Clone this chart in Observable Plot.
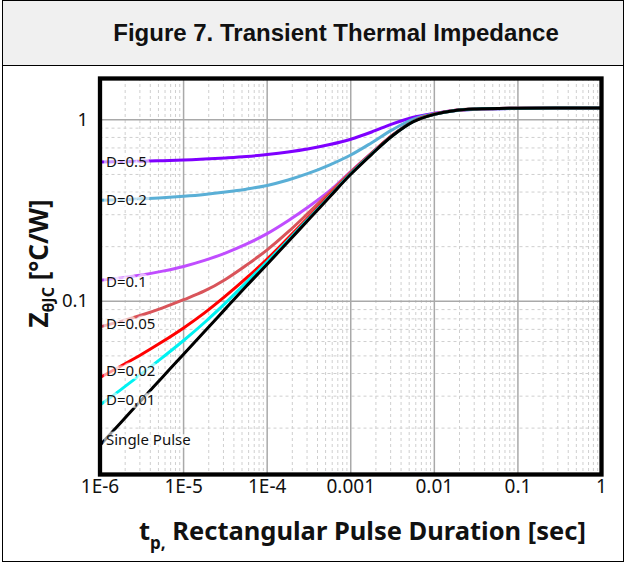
<!DOCTYPE html>
<html>
<head>
<meta charset="utf-8">
<script src="https://cdn.jsdelivr.net/npm/d3@7"></script>
<script src="https://cdn.jsdelivr.net/npm/@observablehq/plot@0.6"></script>
<style>
  body { margin: 0; background: #fff; }
  #fig { position: relative; width: 626px; height: 564px; overflow: hidden; background: #fff; }
  #box { position: absolute; left: 2px; top: 0; width: 620px; height: 560px; border: 1.5px solid #000; }
  #head {
    position: absolute; left: 2px; top: 0; width: 620px; height: 64px;
    background: #f0f0f0; border: 1.5px solid #000;
    display: flex; align-items: center; justify-content: center;
  }
  #title {
    font: bold 24px "Liberation Sans", Arial, sans-serif; color: #111;
    padding-left: 46px;
  }
  #chart { position: absolute; left: 0; top: 66px; }
</style>
</head>
<body>
<div id="fig">
  <div id="box"></div>
  <div id="head"><div id="title">Figure 7. Transient Thermal Impedance</div></div>
  <div id="chart"></div>
</div>
<script>
// Pulse duration t_p (s), shared by every curve
const tp = [1e-6, 1.78e-6, 3.16e-6, 5.62e-6, 1e-5, 1.78e-5, 3.16e-5, 5.62e-5, 1e-4, 1.78e-4, 3.16e-4,
            5.62e-4, 1e-3, 1.78e-3, 3.16e-3, 5.62e-3, 1e-2, 1.78e-2, 3.16e-2, 0.1, 1];

// Z_thJC (°C/W) for each duty cycle
const zD05    = [0.585, 0.588, 0.592, 0.596, 0.601, 0.608, 0.617, 0.628, 0.644, 0.665, 0.693, 0.731, 0.782, 0.857, 0.951, 1.033, 1.086, 1.127, 1.143, 1.156, 1.161];
const zD02    = [0.360, 0.363, 0.367, 0.372, 0.379, 0.388, 0.400, 0.415, 0.435, 0.466, 0.508, 0.565, 0.640, 0.748, 0.883, 1.009, 1.079, 1.122, 1.143, 1.156, 1.161];
const zD01    = [0.1306, 0.1346, 0.1396, 0.1466, 0.1556, 0.168, 0.1845, 0.2065, 0.236, 0.278, 0.333, 0.407, 0.519, 0.658, 0.824, 0.982, 1.077, 1.130, 1.146, 1.159, 1.161];
const zD005   = [0.0723, 0.0775, 0.0840, 0.0920, 0.102, 0.114, 0.132, 0.158, 0.192, 0.241, 0.309, 0.398, 0.515, 0.655, 0.822, 0.984, 1.077, 1.130, 1.148, 1.159, 1.161];
const zD002   = [0.0380, 0.0440, 0.0511, 0.0600, 0.0713, 0.0863, 0.1067, 0.134, 0.171, 0.223, 0.292, 0.386, 0.509, 0.653, 0.822, 0.982, 1.074, 1.127, 1.148, 1.159, 1.161];
const zD001   = [0.0268, 0.0326, 0.0399, 0.0491, 0.0608, 0.0764, 0.0977, 0.127, 0.165, 0.217, 0.287, 0.380, 0.505, 0.649, 0.819, 0.980, 1.072, 1.127, 1.148, 1.159, 1.161];
const zSingle = [0.0161, 0.0215, 0.0287, 0.0383, 0.0511, 0.0681, 0.0908, 0.121, 0.160, 0.213, 0.283, 0.377, 0.501, 0.646, 0.817, 0.977, 1.072, 1.127, 1.148, 1.159, 1.161];

const seriesNames  = ["D=0.5", "D=0.2", "D=0.1", "D=0.05", "D=0.02", "D=0.01", "Single Pulse"];
const seriesValues = [zD05, zD02, zD01, zD005, zD002, zD001, zSingle];

// Axis ticks and their printed labels
const xTicks = [1e-6, 1e-5, 1e-4, 1e-3, 1e-2, 0.1, 1];
const xTickLabels = ["1E-6", "1E-5", "1E-4", "0.001", "0.01", "0.1", "1"];
const yTicks = [0.1, 1];
const yTickLabels = ["0.1", "1"];

// Styling
const seriesColors = ["#7f00ff", "#5aafd6", "#c04dff", "#d9545a", "#ff0000", "#00f2f2", "#000000"];
const labelNudge = [0, 0, 2, -3, -6, -5, -5];
const xDomain = [1e-6, 1];
const yDomain = [0.0111, 1.69];

const rows = seriesNames.flatMap((name, i) =>
  tp.map((t, j) => ({series: name, t, z: seriesValues[i][j]}))
);
const xTickRows = xTicks.map((v, i) => ({v, label: xTickLabels[i]}));
const yTickRows = yTicks.map((v, i) => ({v, label: yTickLabels[i]}));

const isMajor = (ticks) => (v) => ticks.some(m => Math.abs(m - v) / m < 1e-6);
const minorX = d3.scaleLog().domain(xDomain).ticks().filter(v => !isMajor(xTicks)(v));
const minorY = d3.scaleLog().domain(yDomain).ticks().filter(v => !isMajor(yTicks)(v));

const font = "'Noto Sans', 'Open Sans', sans-serif";

const labelMarks = seriesNames.map((name, i) =>
  Plot.text([{series: name, t: tp[0], z: seriesValues[i][0]}], {
    x: "t", y: "z", text: "series",
    textAnchor: "start", dx: 6, dy: labelNudge[i],
    fontSize: 15, fontFamily: font, fill: "#111",
    stroke: "white", strokeOpacity: 0.6, strokeWidth: 7
  })
);

const chart = Plot.plot({
  width: 626,
  height: 498,
  marginTop: 12,
  marginBottom: 90,
  marginLeft: 99.5,
  marginRight: 25,
  style: {fontFamily: font, background: "transparent"},
  x: {type: "log", domain: xDomain, axis: null},
  y: {type: "log", domain: yDomain, axis: null},
  color: {domain: seriesNames, range: seriesColors},
  marks: [
    Plot.ruleX(minorX, {stroke: "#cfcfcf", strokeWidth: 1, strokeDasharray: "3,3"}),
    Plot.ruleY(minorY, {stroke: "#cfcfcf", strokeWidth: 1, strokeDasharray: "3,3"}),
    Plot.ruleX(xTicks, {stroke: "#a9a9a9", strokeWidth: 1.5}),
    Plot.ruleY(yTicks, {stroke: "#a9a9a9", strokeWidth: 1.5}),
    Plot.line(rows, {x: "t", y: "z", z: "series", stroke: "series", strokeWidth: 3, curve: "catmull-rom"}),
    ...labelMarks,
    Plot.text(xTickRows, {x: "v", text: "label", frameAnchor: "bottom", dy: 18, fontSize: 19, fill: "#111"}),
    Plot.text(yTickRows, {y: "v", text: "label", frameAnchor: "left", dx: -12, textAnchor: "end", fontSize: 18.5, fill: "#111"}),
    Plot.frame({stroke: "#000", strokeWidth: 4.3})
  ]
});

// Axis titles with subscripts
const svg = d3.select(chart);
const xt = svg.append("text")
  .attr("x", 139).attr("y", 474)
  .attr("text-anchor", "start")
  .attr("font-family", font).attr("font-weight", "bold").attr("font-size", 25.5).attr("fill", "#111");
xt.append("tspan").text("t");
xt.append("tspan").attr("font-size", 17).attr("dy", 9).text("p,");
xt.append("tspan").attr("dy", -9).text(" Rectangular Pulse Duration [sec]");

const yt = svg.append("text")
  .attr("transform", "translate(48,197.5) rotate(-90)")
  .attr("text-anchor", "middle")
  .attr("font-family", font).attr("font-weight", "bold").attr("font-size", 26).attr("fill", "#111");
yt.append("tspan").text("Z");
yt.append("tspan").attr("font-size", 16).attr("dy", 6).text("θJC");
yt.append("tspan").attr("dy", -6).text(" [°C/W]");

document.getElementById("chart").appendChild(chart);
</script>
</body>
</html>
